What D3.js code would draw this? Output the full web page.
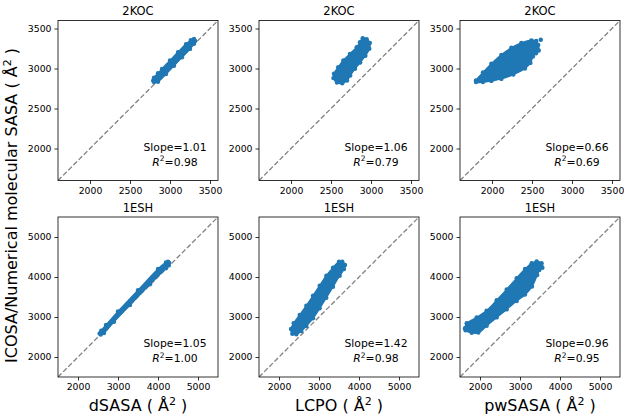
<!DOCTYPE html>
<html><head><meta charset="utf-8">
<script src="https://cdn.jsdelivr.net/npm/d3@7"></script>
<style>body{margin:0;background:#fff;} text{font-family:"DejaVu Sans",sans-serif;}</style>
</head><body><svg id="c" width="624" height="417"></svg>
<script>
// ---- data ----
const proteins = ["2KOC", "1ESH"];
const methods = ["dSASA", "LCPO", "pwSASA"];
const ticks2KOC = [2000, 2500, 3000, 3500];
const ticks1ESH = [2000, 3000, 4000, 5000];
const limits2KOC = [1600, 3600];
const limits1ESH = [1500, 5500];
const slopes = [[1.01, 1.06, 0.66], [1.05, 1.42, 0.96]];
const rSquared = [[0.98, 0.79, 0.69], [1.00, 0.98, 0.95]];

// cloud boundaries (data coords)
const cloud_2KOC_dSASA = [[2790,2850],[2800,2885],[2850,2940],[2900,2995],[3000,3100],[3100,3205],[3200,3305],[3260,3355],[3300,3370],[3315,3345],[3300,3310],[3250,3245],[3150,3140],[3050,3035],[2950,2930],[2850,2835],[2800,2830]];
const cloud_2KOC_LCPO = [[2896,3379],[2946,3365],[2985,3320],[2979,3246],[2930,3160],[2865,3075],[2800,2996],[2740,2912],[2700,2850],[2640,2815],[2575,2825],[2530,2880],[2537,2935],[2590,3017],[2654,3100],[2737,3183],[2821,3267],[2862,3329]];
const cloud_2KOC_pwSASA = [[1800,2850],[1887,2950],[1992,3060],[2117,3170],[2242,3260],[2367,3320],[2492,3352],[2554,3345],[2578,3295],[2585,3225],[2550,3190],[2512,3150],[2480,3070],[2412,3000],[2267,2925],[2117,2870],[1992,2845],[1887,2830],[1800,2830]];
const cloud_1ESH_dSASA = [[2540,2590],[2580,2660],[2700,2800],[3000,3140],[3500,3670],[4000,4200],[4200,4365],[4250,4385],[4280,4350],[4270,4290],[4200,4220],[3800,3820],[3300,3300],[2900,2880],[2650,2600],[2570,2560]];
const cloud_1ESH_LCPO = [[3583,4383],[3650,4300],[3625,4200],[3517,4033],[3350,3758],[3183,3483],[3017,3217],[2850,2967],[2683,2775],[2558,2650],[2433,2567],[2333,2583],[2300,2700],[2367,2842],[2517,3050],[2683,3283],[2850,3533],[3017,3783],[3183,4033],[3350,4233],[3500,4383]];
const cloud_1ESH_pwSASA = [[1625,2717],[1667,2842],[1917,2990],[2167,3160],[2417,3420],[2667,3690],[2917,3970],[3125,4200],[3292,4342],[3417,4390],[3540,4345],[3560,4230],[3483,4175],[3430,4050],[3300,3760],[3125,3560],[2917,3400],[2667,3190],[2417,2990],[2167,2780],[1958,2610],[1792,2605],[1640,2670]];
const outliers_2KOC_pwSASA = [[2610,3360]];

const clouds = [[cloud_2KOC_dSASA, cloud_2KOC_LCPO, cloud_2KOC_pwSASA],
                [cloud_1ESH_dSASA, cloud_1ESH_LCPO, cloud_1ESH_pwSASA]];
const outliers = [[[], [], outliers_2KOC_pwSASA], [[], [], []]];
const rowTicks = [ticks2KOC, ticks1ESH];
const rowLimits = [limits2KOC, limits1ESH];

// ---- layout ----
const svg = d3.select("#c");
const lefts = [58, 259, 460];
const tops = [20.5, 217];
const S = 160;
const blue = "#1f77b4";
const fmt = d3.format(".2f");

for (let r = 0; r < 2; r++) {
  for (let c = 0; c < 3; c++) {
    const g = svg.append("g").attr("transform", `translate(${lefts[c]},${tops[r]})`);
    const x = d3.scaleLinear().domain(rowLimits[r]).range([0, S]);
    const y = d3.scaleLinear().domain(rowLimits[r]).range([S, 0]);
    const cid = `clip${r}${c}`;
    g.append("clipPath").attr("id", cid).append("rect").attr("width", S).attr("height", S);
    const pg = g.append("g").attr("clip-path", `url(#${cid})`);
    pg.append("line")
      .attr("x1", x(rowLimits[r][0])).attr("y1", y(rowLimits[r][0]))
      .attr("x2", x(rowLimits[r][1])).attr("y2", y(rowLimits[r][1]))
      .attr("stroke", "#808080").attr("stroke-width", 1.3).attr("stroke-dasharray", "5,2.3");
    const data = clouds[r][c];
    pg.append("path").datum(data)
      .attr("d", d3.line().x(d => x(d[0])).y(d => y(d[1])).curve(d3.curveCatmullRomClosed))
      .attr("fill", blue).attr("stroke", blue).attr("stroke-width", 1.5).attr("stroke-linejoin", "round");
    pg.selectAll("circle.e").data(data.concat(outliers[r][c])).enter().append("circle")
      .attr("cx", d => x(d[0])).attr("cy", d => y(d[1])).attr("r", 2.2).attr("fill", blue);
    g.append("rect").attr("width", S).attr("height", S).attr("fill", "none").attr("stroke", "#000").attr("stroke-width", 0.8);
    const ax = g.append("g").attr("transform", `translate(0,${S})`)
      .call(d3.axisBottom(x).tickValues(rowTicks[r]).tickFormat(d3.format("d")).tickSize(3.5).tickPadding(3).tickSizeOuter(0));
    const ay = g.append("g")
      .call(d3.axisLeft(y).tickValues(rowTicks[r]).tickFormat(d3.format("d")).tickSize(3.5).tickPadding(3).tickSizeOuter(0));
    [ax, ay].forEach(a => {
      a.select(".domain").remove();
      a.selectAll("line").attr("stroke", "#000").attr("stroke-width", 0.8);
      a.selectAll("text").attr("font-family", "DejaVu Sans").attr("font-size", 9.3).attr("fill", "#000");
    });
    g.append("text").attr("x", S / 2).attr("y", -5.5).attr("text-anchor", "middle")
      .attr("font-size", 11.5).text(proteins[r]);
    g.append("text").attr("x", 117).attr("y", S - 30).attr("text-anchor", "middle")
      .attr("font-size", 10.8).text("Slope=" + fmt(slopes[r][c]));
    const t2 = g.append("text").attr("x", 117).attr("y", S - 15).attr("text-anchor", "middle").attr("font-size", 10.8);
    t2.append("tspan").attr("font-style", "italic").text("R");
    t2.append("tspan").attr("font-size", 7.5).attr("dy", -4.5).text("2");
    t2.append("tspan").attr("dy", 4.5).text("=" + fmt(rSquared[r][c]));
    if (r === 1) {
      const xl = svg.append("text").attr("x", lefts[c] + S / 2).attr("y", 411).attr("text-anchor", "middle").attr("font-size", 16);
      xl.append("tspan").text(methods[c] + " ( Å");
      xl.append("tspan").attr("font-size", 11).attr("dy", -6.5).text("2");
      xl.append("tspan").attr("dy", 6.5).text(" )");
    }
  }
}
const yl = svg.append("text").attr("transform", "translate(17,205.5) rotate(-90)").attr("text-anchor", "middle").attr("font-size", 16);
yl.append("tspan").text("ICOSA/Numerical molecular SASA ( Å");
yl.append("tspan").attr("font-size", 11).attr("dy", -6.5).text("2");
yl.append("tspan").attr("dy", 6.5).text(" )");
</script></body></html>
